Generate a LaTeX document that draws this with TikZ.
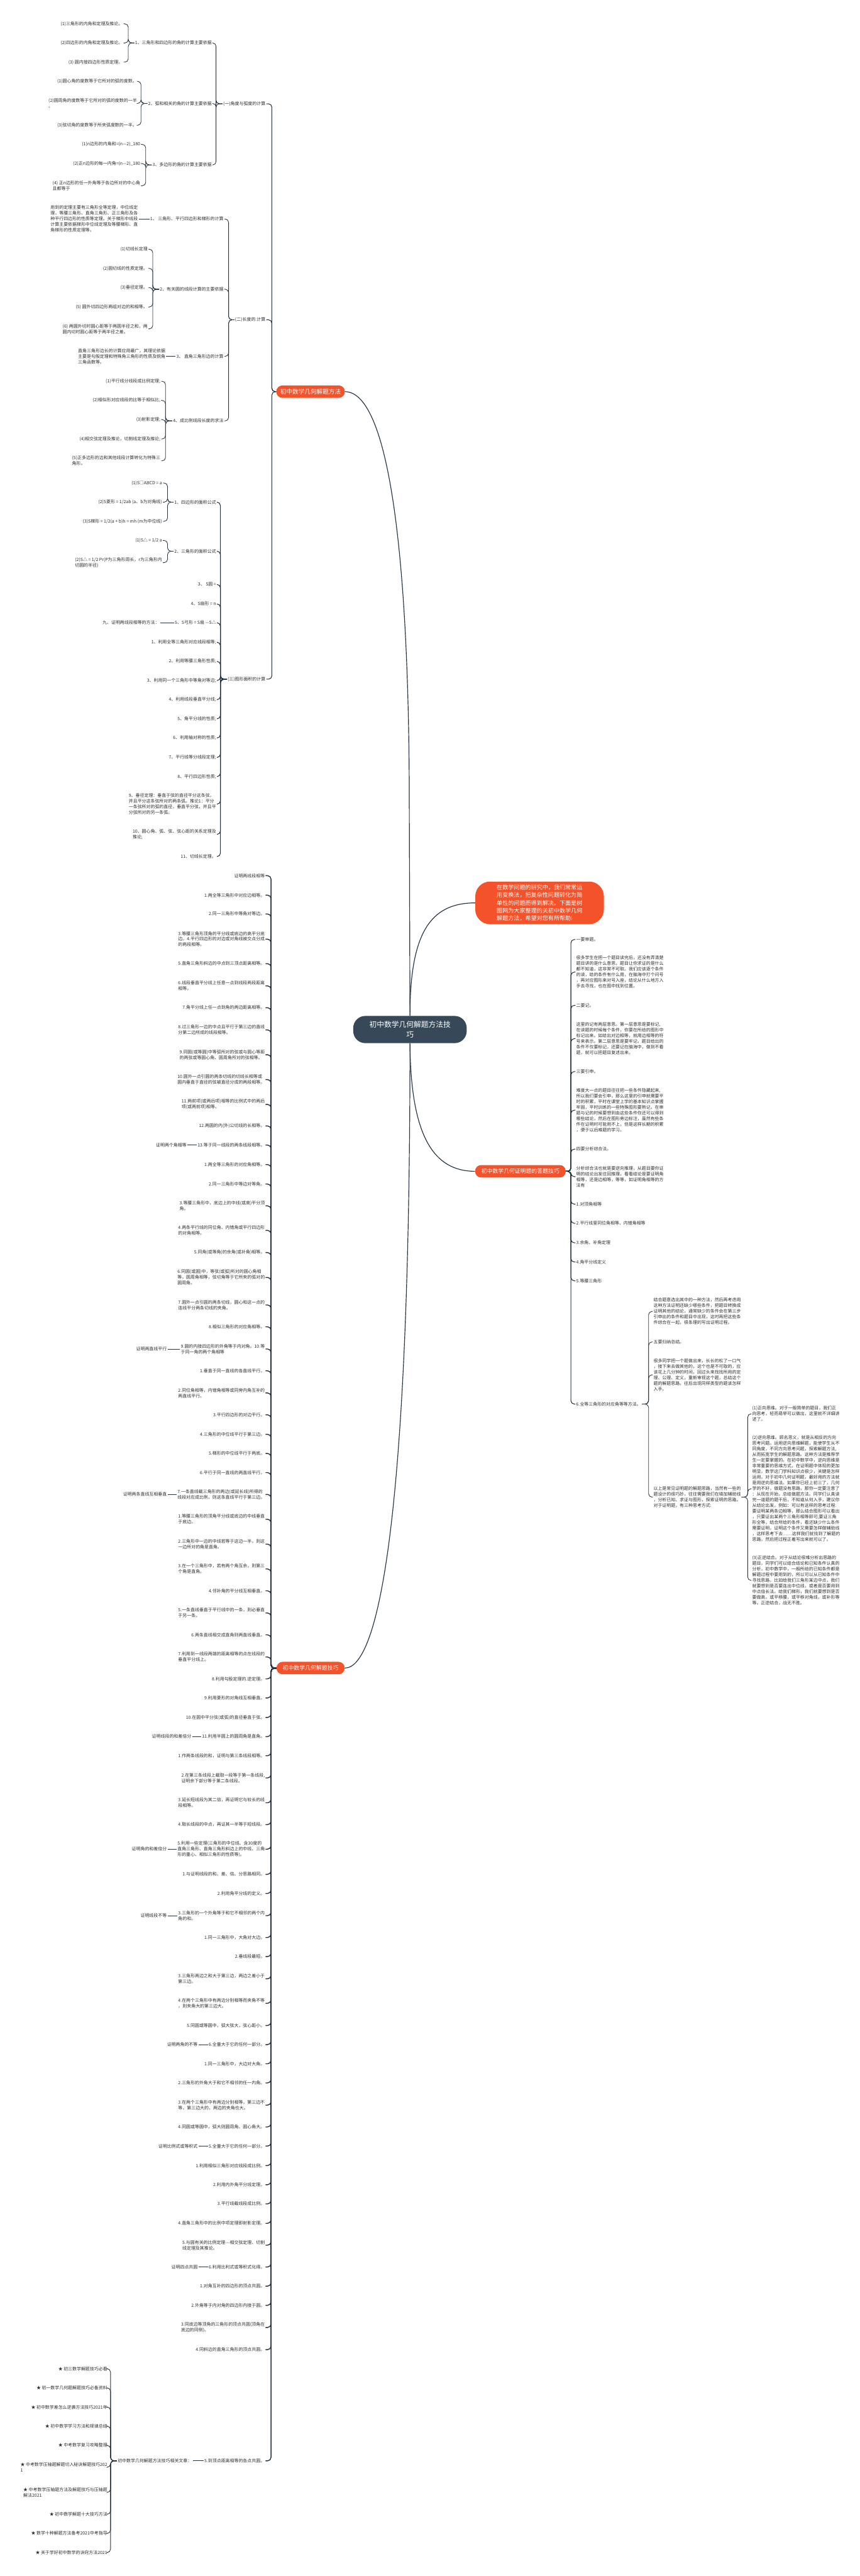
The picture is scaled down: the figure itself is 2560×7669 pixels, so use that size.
\documentclass[tikz,border=0pt]{standalone}
\usepackage{fontspec}
\setmainfont{Noto Sans CJK SC}
\definecolor{orng}{RGB}{244,82,42}
\definecolor{dk}{RGB}{55,73,88}
\definecolor{lc}{RGB}{38,52,66}
\definecolor{tc}{RGB}{45,45,45}
\newcommand\fsA{\fontsize{6.5pt}{8.4pt}\selectfont}
\newcommand\fsB{\fontsize{9pt}{11pt}\selectfont}
\newcommand\fsC{\fontsize{8.3pt}{10pt}\selectfont}
\newcommand\fsD{\fontsize{11pt}{14.5pt}\selectfont}
\newcommand\fsE{\fontsize{8.5pt}{11.5pt}\selectfont}
\tikzset{
  tx/.style={font=\fsA, text=tc, inner xsep=1pt, inner ysep=0.5pt, align=left},
  br/.style={draw=lc, line width=0.8pt, rounded corners=5pt},
  brk/.style={draw=lc, line width=1.3pt, rounded corners=5pt},
  mainc/.style={draw=lc, line width=1.1pt},
  pill/.style={fill=orng, text=white, rounded corners=9pt, inner sep=0pt, minimum height=18.5pt},
}
\begin{document}
\begin{tikzpicture}[x=0.5pt,y=-0.5pt]
\fill[white] (0,0) rectangle (2560,7669);
\useasboundingbox (0,0) rectangle (2560,7669);

% ---------- central and main nodes
\node[fill=dk, text=white, rounded corners=18pt, minimum width=169pt, minimum height=40.5pt, align=center, font=\fsD, inner sep=0pt] (c) at (1221,3065) {初中数学几何解题方法技\\巧};
\node[fill=orng, text=white, rounded corners=22pt, minimum width=191.5pt, minimum height=63.5pt, align=left, font=\fsE, inner sep=0pt] (intro) at (1607,2688) {在数学问题的研究中，我们常常运\\用变换法，把复杂性问题转化为简\\单性的问题而得到解决。下面是树\\图网为大家整理的关初中数学几何\\解题方法，希望对您有所帮助!};
\node[pill, minimum width=102pt, font=\fsB] (b1) at (925,1166) {初中数学几何解题方法};
\node[pill, minimum width=135pt, font=\fsC] (b2) at (1550,3487) {初中数学几何证明题的答题技巧};
\node[pill, minimum width=101.5pt, font=\fsC] (b3) at (925,4966) {初中数学几何解题技巧};

\draw[mainc] (b1.east) .. controls (1150,1166) and (1219,1600) .. (1219,2400) -- (c.north);
\draw[mainc] (c.north) .. controls (1221,2780) and (1280,2688) .. (intro.west);
\draw[mainc] (c.south) .. controls (1223,3380) and (1290,3487) .. (b2.west);
\draw[mainc] (c.south) .. controls (1221,4500) and (1130,4966) .. (b3.east);

% ---------- branch 1
\node[tx,anchor=east] (L2a) at (793,309) {(一)角度与弧度的计算};
\node[tx,anchor=east] (L2b) at (793,952) {(二)长度的.计算};
\node[tx,anchor=east] (L2c) at (793,2022) {(三)图形面积的计算};
\foreach \n in {L2a,L2b,L2c} \draw[br,line width=1pt] (b1.west) -- ++(-13,0) |- (\n.east);

\node[tx,anchor=east] (A1) at (633,128) {1、三角形和四边形的角的计算主要依据};
\node[tx,anchor=east] (A2) at (633,308) {2、弧和相关的角的计算主要依据};
\node[tx,anchor=east] (A3) at (633,491) {3、多边形的角的计算主要依据};
\foreach \n in {A1,A2,A3} \draw[br] (L2a.west) -- ++(-19,0) |- (\n.east);

\node[tx,anchor=east] (A1a) at (368,71) {(1)三角形的内角和定理及推论。};
\node[tx,anchor=east] (A1b) at (368,128) {(2)四边形的内角和定理及推论。};
\node[tx,anchor=east] (A1c) at (368,185) {(3) 圆内接四边形性质定理。};
\foreach \n in {A1a,A1b,A1c} \draw[br] (A1.west) -- ++(-18,0) |- (\n.east);

\node[tx,anchor=east] (A2a) at (410,242) {(1)圆心角的度数等于它所对的弧的度数。};
\node[tx,anchor=east] (A2b) at (410,308) {(2)圆周角的度数等于它所对的弧的度数的一半\\。};
\node[tx,anchor=east] (A2c) at (410,373) {(3)弦切角的度数等于所夹弧度数的一半。};
\foreach \n in {A2a,A2b,A2c} \draw[br] (A2.west) -- ++(-19,0) |- (\n.east);

\node[tx,anchor=east] (A3a) at (420,430) {(1)n边形的内角和=(n—2)\_180};
\node[tx,anchor=east] (A3b) at (420,487) {(2)正n边形的每一内角=(n—2)\_180};
\node[tx,anchor=east] (A3c) at (420,553) {(4) 正n边形的任一外角等于各边所对的中心角\\且都等于};
\foreach \n in {A3a,A3b,A3c} \draw[br] (A3.west) -- ++(-18,0) |- (\n.east);

\node[tx,anchor=east] (B1) at (668,652) {1、 三角形、平行四边形和梯形的计算};
\node[tx,anchor=east] (B2) at (668,861) {2、有关圆的线段计算的主要依据};
\node[tx,anchor=east] (B3) at (668,1061) {3、 直角三角形边的计算};
\node[tx,anchor=east] (B4) at (668,1253) {4、成比例线段长度的求法};
\foreach \n in {B1,B2,B3,B4} \draw[br] (L2b.west) -- ++(-17,0) |- (\n.east);

\node[tx,anchor=east] (B1a) at (413,652) {用到的定理主要有三角形全等定理，中位线定\\理，等腰三角形、直角三角形、正三角形及各\\种平行四边形的性质等定理。关于梯形中线段\\计算主要依据梯形中位线定理及等腰梯形、直\\角梯形的性质定理等。};
\draw[br] (B1.west) -- (B1a.east);

\node[tx,anchor=east] (B2a) at (442,742) {(1)切线长定理};
\node[tx,anchor=east] (B2b) at (442,799) {(2)圆切线的性质定理。};
\node[tx,anchor=east] (B2c) at (442,856) {(3)垂径定理。};
\node[tx,anchor=east] (B2d) at (442,914) {(5) 圆外切四边形两组对边的和相等。};
\node[tx,anchor=east] (B2e) at (442,979) {(6) 两圆外切时圆心距等于两圆半径之和，两\\圆内切时圆心距等于两半径之差。};
\foreach \n in {B2a,B2b,B2c,B2d,B2e} \draw[br] (B2.west) -- ++(-19,0) |- (\n.east);

\node[tx,anchor=east] (B3a) at (495,1061) {直角三角形边长的计算应用最广，其理论依据\\主要是勾股定理和特殊角三角形的性质及锐角\\三角函数等。};
\draw[br] (B3.west) -- (B3a.east);

\node[tx,anchor=east] (B4a) at (480,1135) {(1)平行线分线段成比例定理;};
\node[tx,anchor=east] (B4b) at (480,1192) {(2)相似形对应线段的比等于相似比;};
\node[tx,anchor=east] (B4c) at (480,1249) {(3)射影定理;};
\node[tx,anchor=east] (B4d) at (480,1307) {(4)相交弦定理及推论，切割线定理及推论;};
\node[tx,anchor=east] (B4e) at (480,1372) {(5)正多边形的边和其他线段计算转化为特殊三\\角形。};
\foreach \n in {B4a,B4b,B4c,B4d,B4e} \draw[br] (B4.west) -- ++(-20,0) |- (\n.east);

\node[tx,anchor=east] (C1) at (646,1495) {1、四边形的面积公式};
\node[tx,anchor=east] (C2) at (646,1641) {2、三角形的面积公式};
\node[tx,anchor=east] (C3) at (646,1740) {3、 S圆 =};
\node[tx,anchor=east] (C4) at (646,1798) {4、S扇形 = n};
\node[tx,anchor=east] (C5) at (646,1854) {5、S弓形 = S扇 —S△};
\node[tx,anchor=east] (C6) at (646,1912) {1、利用全等三角形对应线段相等;};
\node[tx,anchor=east] (C7) at (646,1969) {2、利用等腰三角形性质;};
\node[tx,anchor=east] (C8) at (646,2026) {3、利用同一个三角形中等角对等边;};
\node[tx,anchor=east] (C9) at (646,2083) {4、利用线段垂直平分线;};
\node[tx,anchor=east] (C10) at (646,2140) {5、角平分线的性质;};
\node[tx,anchor=east] (C11) at (646,2197) {6、利用轴对称的性质;};
\node[tx,anchor=east] (C12) at (646,2255) {7、平行线等分线段定理;};
\node[tx,anchor=east] (C13) at (646,2312) {8、平行四边形性质;};
\node[tx,anchor=east] (C14) at (646,2394) {9、垂径定理：垂直于弦的直径平分这条弦，\\并且平分这条弦所对的两条弧。推论1：平分\\一条弦所对的弧的直径，垂直平分弦，并且平\\分弦所对的另一条弧。};
\node[tx,anchor=east] (C15) at (646,2484) {10、圆心角、弧、弦、弦心距的关系定理及\\推论;};
\node[tx,anchor=east] (C16) at (646,2550) {11、切线长定理。};
\foreach \i in {1,...,16} \draw[br,line width=1pt] (L2c.west) -- ++(-19,0) |- (C\i.east);

\node[tx,anchor=east] (C1a) at (485,1438) {(1)S□ABCD = a};
\node[tx,anchor=east] (C1b) at (485,1495) {(2)S菱形 = 1/2ab (a、b为对角线)};
\node[tx,anchor=east] (C1c) at (485,1552) {(3)S梯形 = 1/2(a + b)h = mh (m为中位线)};
\foreach \n in {C1a,C1b,C1c} \draw[br] (C1.west) -- ++(-18,0) |- (\n.east);
\node[tx,anchor=east] (C2a) at (485,1609) {(1)S△ = 1/2 a};
\node[tx,anchor=east] (C2b) at (485,1675) {(2)S△ = 1/2 Pr(P为三角形周长，r为三角形内\\切圆的半径)};
\foreach \n in {C2a,C2b} \draw[br] (C2.west) -- ++(-18,0) |- (\n.east);
\node[tx,anchor=east] (C5a) at (477,1854) {九、证明两线段相等的方法：};
\draw[br] (C5.west) -- (C5a.east);

% ---------- branch 2 (right)
\tikzset{rt/.style={tx,anchor=west}}
\node[rt] (G1) at (1714,2797) {一要审题。};
\node[rt] (G2) at (1714,2894) {很多学生在把一个题目读完后，还没有弄清楚\\题目讲的是什么意思，题目让你求证的是什么\\都不知道，这非常不可取。我们应该逐个条件\\的读，给的条件有什么用，在脑海中打个问号\\，再对应图形来对号入座，结论从什么地方入\\手去寻找，也在图中找到位置。};
\node[rt] (G3) at (1714,2993) {二要记。};
\node[rt] (G4) at (1714,3092) {这里的记有两层意思。第一层意思是要标记,\\在读题的时候每个条件，你要在所给的图形中\\标记出来。如给出对边相等，就用边相等的符\\号来表示。第二层意思是要牢记，题目给出的\\条件不仅要标记，还要记在脑海中，做到不看\\题，就可以把题目复述出来。};
\node[rt] (G5) at (1714,3190) {三要引申。};
\node[rt] (G6) at (1714,3305) {难度大一点的题目往往把一些条件隐藏起来,\\所以我们要会引申，那么这里的引申就需要平\\时的积累，平时在课堂上学的基本知识点掌握\\牢固，平时训练的一些特殊图形要熟记，在审\\题与记的时候要想到由这些条件你还可以得到\\哪些结论，然后在图形旁边标注，虽然有些条\\件在证明时可能用不上，但是这样长期的积累\\，便于以后难题的学习。};
\node[rt] (G7) at (1714,3421) {四要分析综合法。};
\node[rt] (G8) at (1714,3503) {分析综合法也就是要逆向推理，从题目要你证\\明的结论出发往回推理。看看结论是要证明角\\相等，还是边相等，等等，如证明角相等的方\\法有};
\node[rt] (G9) at (1714,3585) {1.对顶角相等};
\node[rt] (G10) at (1714,3642) {2.平行线里同位角相等、内错角相等};
\node[rt] (G11) at (1714,3700) {3.余角、补角定理};
\node[rt] (G12) at (1714,3757) {4.角平分线定义};
\node[rt] (G13) at (1714,3813) {5.等腰三角形};
\node[rt] (G14) at (1714,4180) {6.全等三角形的对应角等等方法。};
\foreach \i in {1,...,14} \draw[br,line width=1pt] (b2.east) -- ++(15,0) |- (G\i.west);

\node[rt] (H1) at (1944,3904) {结合题意选出其中的一种方法，然后再考虑用\\这种方法证明还缺少哪些条件，把题目转换成\\证明其他的结论，通常缺少的条件会在第三步\\引申出的条件和题目中出现，这时再把这些条\\件综合在一起，很条理的写出证明过程。};
\node[rt] (H2) at (1944,3995) {五要归纳总结。};
\node[rt] (H3) at (1944,4093) {很多同学把一个题做出来，长长的松了一口气\\，接下来去做其他的，这个也是不可取的，应\\该花上几分钟的时间，回过头来找找所用的定\\理、公理、定义，重新审视这个题，总结这个\\题的解题思路，往后出现同样类型的题该怎样\\入手。};
\node[rt] (H4) at (1944,4457) {以上是常见证明题的解题思路，当然有一些的\\题设计的很巧妙，往往需要我们在填加辅助线\\，分析已知、求证与图形，探索证明的思路。\\对于证明题，有三种思考方式:};
\foreach \n in {H1,H2,H3,H4} \draw[br] (G14.east) -- ++(20,0) |- (\n.west);

\node[rt] (I1) at (2238,4209) {(1)正向思维。对于一般简单的题目，我们正\\向思考，轻而易举可以做出，这里就不详细讲\\述了。};
\node[rt] (I2) at (2238,4432) {(2)逆向思维。顾名思义，就是从相反的方向\\思考问题。运用逆向思维解题，能使学生从不\\同角度，不同方向思考问题，探索解题方法,\\从而拓宽学生的解题思路。这种方法是推荐学\\生一定要掌握的。在初中数学中，逆向思维是\\非常重要的思维方式，在证明题中体现的更加\\明显，数学这门学科知识点很少，关键是怎样\\运用，对于初中几何证明题，最好用的方法就\\是用逆向思维法。如果你已经上初三了，几何\\学的不好，做题没有思路，那你一定要注意了\\：从现在开始，总结做题方法。同学们认真读\\完一道题的题干后，不知道从何入手，建议你\\从结论出发。例如：可以有这样的思考过程:\\要证明某两条边相等，那么结合图形可以看出\\，只要证出某两个三角形相等即可;要证三角\\形全等，结合所给的条件，看还缺少什么条件\\需要证明，证明这个条件又需要怎样做辅助线\\，这样思考下去……这样我们就找到了解题的\\思路，然后把过程正着写出来就可以了。};
\node[rt] (I3) at (2238,4705) {(3)正逆结合。对于从结论很难分析出思路的\\题目，同学们可以结合结论和已知条件认真的\\分析，初中数学中，一般所给的已知条件都是\\解题过程中要用到的，所以可以从已知条件中\\寻找思路，比如给我们三角形某边中点，我们\\就要想到是否要连出中位线，或者是否要用到\\中点倍长法。给我们梯形，我们就要想到是否\\要做高，或平移腰，或平移对角线，或补形等\\等。正逆结合，战无不胜。};
\foreach \n in {I1,I2,I3} \draw[br] (H4.east) -- ++(18,0) |- (\n.west);

% ---------- branch 3
\tikzset{lt/.style={tx,anchor=east}}
\node[lt] (D1) at (791,2607) {证明两线段相等};
\node[lt] (D2) at (791,2665) {1.两全等三角形中对应边相等。};
\node[lt] (D3) at (791,2721) {2.同一三角形中等角对等边。};
\node[lt] (D4) at (791,2796) {3.等腰三角形顶角的平分线或底边的高平分底\\边。4.平行四边形的对边或对角线被交点分成\\的两段相等。};
\node[lt] (D5) at (791,2869) {5.直角三角形斜边的中点到三顶点距离相等。};
\node[lt] (D6) at (791,2935) {6.线段垂直平分线上任意一点到线段两段距离\\相等。};
\node[lt] (D7) at (791,3000) {7.角平分线上任一点到角的两边距离相等。};
\node[lt] (D8) at (791,3066) {8.过三角形一边的中点且平行于第三边的直线\\分第二边所成的线段相等。};
\node[lt] (D9) at (791,3140) {9.同圆(或等圆)中等弧所对的弦或与圆心等距\\的两弦或等圆心角、圆周角所对的弦相等。};
\node[lt] (D10) at (791,3214) {10.圆外一点引圆的两条切线的切线长相等或\\圆内垂直于直径的弦被直径分成的两段相等。};
\node[lt] (D11) at (791,3288) {11.两前项(或两后项)相等的比例式中的两后\\项(或两前项)相等。};
\node[lt] (D12) at (791,3352) {12.两圆的内(外)公切线的长相等。};
\node[lt] (D13) at (791,3409) {13.等于同一线段的两条线段相等。};
\node[lt] (D14) at (791,3467) {1.两全等三角形的对应角相等。};
\node[lt] (D15) at (791,3525) {2.同一三角形中等边对等角。};
\node[lt] (D16) at (791,3590) {3.等腰三角形中，底边上的中线(或高)平分顶\\角。};
\node[lt] (D17) at (791,3663) {4.两条平行线的同位角、内错角或平行四边形\\的对角相等。};
\node[lt] (D18) at (791,3729) {5.同角(或等角)的余角(或补角)相等。};
\node[lt] (D19) at (791,3803) {6.同圆(或圆)中，等弦(或弧)所对的圆心角相\\等，圆周角相等，弦切角等于它所夹的弧对的\\圆周角。};
\node[lt] (D20) at (791,3885) {7.圆外一点引圆的两条切线，圆心和这一点的\\连线平分两条切线的夹角。};
\node[lt] (D21) at (791,3950) {8.相似三角形的对应角相等。};
\node[lt] (D22) at (791,4016) {9.圆的内接四边形的外角等于内对角。10.等\\于同一角的两个角相等};
\node[lt] (D23) at (791,4081) {1.垂直于同一直线的各直线平行。};
\node[lt] (D24) at (791,4147) {2.同位角相等，内错角相等或同旁内角互补的\\两直线平行。};
\node[lt] (D25) at (791,4212) {3.平行四边形的对边平行。};
\node[lt] (D26) at (791,4270) {4.三角形的中位线平行于第三边。};
\node[lt] (D27) at (791,4327) {5.梯形的中位线平行于两底。};
\node[lt] (D28) at (791,4384) {6.平行于同一直线的两直线平行。};
\node[lt] (D29) at (791,4449) {7.一条直线截三角形的两边(或延长线)所得的\\线段对应成比例，则这条直线平行于第三边。};
\node[lt] (D30) at (791,4523) {1.等腰三角形的顶角平分线或底边的中线垂直\\于底边。};
\node[lt] (D31) at (791,4597) {2.三角形中一边的中线若等于这边一半，则这\\一边所对的角是直角。};
\node[lt] (D32) at (791,4671) {3.在一个三角形中，若有两个角互余，则第三\\个角是直角。};
\node[lt] (D33) at (791,4736) {4.邻补角的平分线互相垂直。};
\node[lt] (D34) at (791,4802) {5.一条直线垂直于平行线中的一条，则必垂直\\于另一条。};
\node[lt] (D35) at (791,4867) {6.两条直线相交成直角则两直线垂直。};
\node[lt] (D36) at (791,4933) {7.利用到一线段两端的距离相等的点在线段的\\垂直平分线上。};
\node[lt] (D37) at (791,4998) {8.利用勾股定理的.逆定理。};
\node[lt] (D38) at (791,5055) {9.利用菱形的对角线互相垂直。};
\node[lt] (D39) at (791,5113) {10.在圆中平分弦(或弧)的直径垂直于弦。};
\node[lt] (D40) at (791,5170) {11.利用半圆上的圆周角是直角。};
\node[lt] (D41) at (791,5227) {1.作两条线段的和，证明与第三条线段相等。};
\node[lt] (D42) at (791,5293) {2.在第三条线段上截取一段等于第一条线段,\\证明余下部分等于第二条线段。};
\node[lt] (D43) at (791,5367) {3.延长短线段为其二倍，再证明它与较长的线\\段相等。};
\node[lt] (D44) at (791,5432) {4.取长线段的中点，再证其一半等于短线段。};
\node[lt] (D45) at (791,5505) {5.利用一些定理(三角形的中位线、含30度的\\直角三角形、直角三角形斜边上的中线、三角\\形的重心、相似三角形的性质等)。};
\node[lt] (D46) at (791,5580) {1.与证明线段的和、差、倍、分思路相同。};
\node[lt] (D47) at (791,5637) {2.利用角平分线的定义。};
\node[lt] (D48) at (791,5703) {3.三角形的一个外角等于和它不相邻的两个内\\角的和。};
\node[lt] (D49) at (791,5768) {1.同一三角形中，大角对大边。};
\node[lt] (D50) at (791,5825) {2.垂线段最短。};
\node[lt] (D51) at (791,5891) {3.三角形两边之和大于第三边，两边之差小于\\第三边。};
\node[lt] (D52) at (791,5964) {4.在两个三角形中有两边分别相等而夹角不等\\，则夹角大的第三边大。};
\node[lt] (D53) at (791,6030) {5.同圆或等圆中，弧大弦大，弦心距小。};
\node[lt] (D54) at (791,6087) {6.全量大于它的任何一部分。};
\node[lt] (D55) at (791,6144) {1.同一三角形中，大边对大角。};
\node[lt] (D56) at (791,6201) {2.三角形的外角大于和它不相邻的任一内角。};
\node[lt] (D57) at (791,6267) {3.在两个三角形中有两边分别相等，第三边不\\等，第三边大的，两边的夹角也大。};
\node[lt] (D58) at (791,6332) {4.同圆或等圆中，弧大则圆周角、圆心角大。};
\node[lt] (D59) at (791,6389) {5.全量大于它的任何一部分。};
\node[lt] (D60) at (791,6447) {1.利用相似三角形对应线段成比例。};
\node[lt] (D61) at (791,6504) {2.利用内外角平分线定理。};
\node[lt] (D62) at (791,6561) {3.平行线截线段成比例。};
\node[lt] (D63) at (791,6619) {4.直角三角形中的比例中项定理即射影定理。};
\node[lt] (D64) at (791,6684) {5.与圆有关的比例定理-{}-{}-相交弦定理、切割\\线定理及其推论。};
\node[lt] (D65) at (791,6749) {6.利用比利式或等积式化得。};
\node[lt] (D66) at (791,6806) {1.对角互补的四边形的顶点共圆。};
\node[lt] (D67) at (791,6863) {2.外角等于内对角的四边形内接于圆。};
\node[lt] (D68) at (791,6929) {3.同底边等顶角的三角形的顶点共圆(顶角在\\底边的同侧)。};
\node[lt] (D69) at (791,6995) {4.同斜边的直角三角形的顶点共圆。};
\node[lt] (D70) at (791,7326) {5.到顶点距离相等的各点共圆。};
\foreach \i in {1,...,70} \draw[brk] (b3.west) -- ++(-16,0) |- (D\i.east);

\node[lt] (E1) at (558,3409) {证明两个角相等};
\draw[br] (D13.west) -- (E1.east);
\node[lt] (E2) at (499,4016) {证明两直线平行};
\draw[br] (D22.west) -- (E2.east);
\node[lt] (E3) at (499,4449) {证明两条直线互相垂直};
\draw[br] (D29.west) -- (E3.east);
\node[lt] (E4) at (572,5170) {证明线段的和差倍分};
\draw[br] (D40.west) -- (E4.east);
\node[lt] (E5) at (499,5505) {证明角的和差倍分};
\draw[br] (D45.west) -- (E5.east);
\node[lt] (E6) at (499,5703) {证明线段不等};
\draw[br] (D48.west) -- (E6.east);
\node[lt] (E7) at (591,6087) {证明两角的不等};
\draw[br] (D54.west) -- (E7.east);
\node[lt] (E8) at (591,6389) {证明比例式或等积式};
\draw[br] (D59.west) -- (E8.east);
\node[lt] (E9) at (591,6749) {证明四点共圆};
\draw[br] (D65.west) -- (E9.east);
\node[lt] (E10) at (574,7326) {初中数学几何解题方法技巧相关文章：};
\draw[br] (D70.west) -- (E10.east);

\node[lt] (F1) at (322,7052) {★ 初三数学解题技巧必看};
\node[lt] (F2) at (322,7109) {★ 初一数学几何题解题技巧必备资料};
\node[lt] (F3) at (322,7166) {★ 初中数学差怎么逆袭方法技巧2021年};
\node[lt] (F4) at (322,7223) {★ 初中数学学习方法和规律总结};
\node[lt] (F5) at (322,7280) {★ 中考数学复习攻略整理};
\node[lt] (F6) at (322,7345) {★ 中考数学压轴题解题切入秘诀解题技巧202\\1};
\node[lt] (F7) at (322,7420) {★ 中考数学压轴题方法及解题技巧与压轴题\\解法2021};
\node[lt] (F8) at (322,7485) {★ 初中数学解题十大技巧方法};
\node[lt] (F9) at (322,7542) {★ 数学十种解题方法备考2021中考指导};
\node[lt] (F10) at (322,7599) {★ 关于学好初中数学的诀窍方法2021};
\foreach \i in {1,...,10} \draw[br] (E10.west) -- ++(-19,0) |- (F\i.east);
\end{tikzpicture}
\end{document}
